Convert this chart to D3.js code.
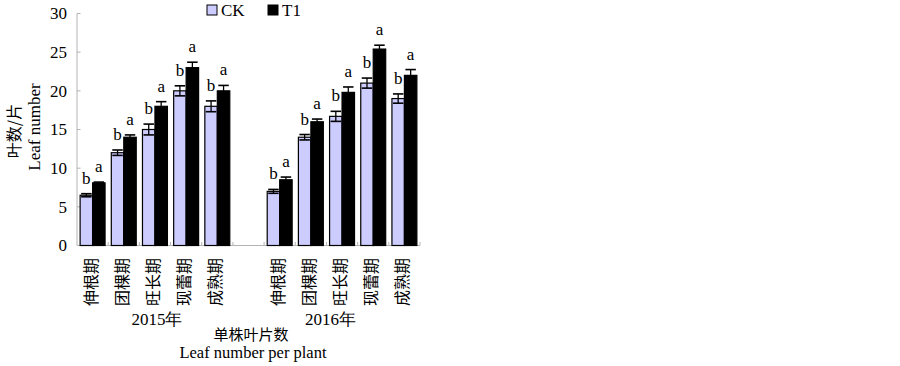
<!DOCTYPE html>
<html><head><meta charset="utf-8">
<script src="https://cdn.jsdelivr.net/npm/d3@7"></script>
<style>body{margin:0;background:#fff}svg{display:block}</style>
</head><body><svg id="c" width="900" height="366"></svg>
<script>
const stages = ["伸根期","团棵期","旺长期","现蕾期","成熟期"];
const years = ["2015年","2016年"];
const seriesNames = ["CK","T1"];
const ck2015 = [6.5, 12.0, 15.0, 20.0, 18.0];
const ck2015Err = [0.2, 0.35, 0.7, 0.65, 0.7];
const t12015 = [8.1, 14.0, 18.0, 23.0, 20.0];
const t12015Err = [0.1, 0.3, 0.6, 0.7, 0.7];
const ck2016 = [7.0, 14.0, 16.7, 21.0, 19.0];
const ck2016Err = [0.25, 0.35, 0.65, 0.65, 0.6];
const t12016 = [8.5, 16.0, 19.8, 25.4, 22.0];
const t12016Err = [0.35, 0.35, 0.7, 0.5, 0.75];
const sigCK = ["b","b","b","b","b","b","b","b","b","b"];
const sigT1 = ["a","a","a","a","a","a","a","a","a","a"];
const yTicks = [0,5,10,15,20,25,30];

const serif = "'Liberation Serif','Times New Roman',serif";
const cjk = "'Noto Sans CJK SC',sans-serif";
const colors = {CK:"#ccccff", T1:"#000000"};
const axisCol = "#b4b4b4";

const svg = d3.select("#c");
const L = 77, R = 420, T = 13.5, B = 245.5;

const rows = [];
years.forEach((yr, yi) => {
  const ck = yi === 0 ? ck2015 : ck2016, cke = yi === 0 ? ck2015Err : ck2016Err;
  const t1 = yi === 0 ? t12015 : t12016, t1e = yi === 0 ? t12015Err : t12016Err;
  stages.forEach((s, i) => {
    rows.push({key: yr + s, year: yr, stage: s,
      vals: [{s:"CK", v: ck[i], e: cke[i], sig: sigCK[yi*5+i]},
             {s:"T1", v: t1[i], e: t1e[i], sig: sigT1[yi*5+i]}]});
  });
  if (yi === 0) rows.push({key: "gap", year: null, stage: "", vals: []});
});

const x = d3.scaleBand().domain(rows.map(r => r.key)).range([L, R]).paddingInner(0).paddingOuter(0);
const xs = d3.scaleBand().domain(seriesNames).range([0, x.bandwidth()]).paddingInner(0).paddingOuter(0.25);
const y = d3.scaleLinear().domain([0, 30]).range([B, T]);

// axes
svg.append("line").attr("x1", L).attr("x2", L).attr("y1", y(30)).attr("y2", y(0)).attr("stroke", axisCol);
svg.append("line").attr("x1", L).attr("x2", R).attr("y1", y(0)).attr("y2", y(0)).attr("stroke", axisCol);
yTicks.forEach(t => {
  svg.append("line").attr("x1", L).attr("x2", L + 3.5).attr("y1", y(t)).attr("y2", y(t)).attr("stroke", axisCol);
  svg.append("text").attr("x", L - 10).attr("y", y(t)).attr("dy", "0.35em").attr("text-anchor", "end")
    .attr("font-family", serif).attr("font-size", 17).text(t);
});
rows.forEach(r => {
  const xe = x(r.key) + x.bandwidth();
  svg.append("line").attr("x1", xe).attr("x2", xe).attr("y1", y(0)).attr("y2", y(0) - 3.5).attr("stroke", axisCol);
});

// bars
const g = svg.append("g");
rows.forEach(r => {
  r.vals.forEach(d => {
    const bx = x(r.key) + xs(d.s), bw = xs.bandwidth();
    g.append("rect").attr("x", bx).attr("y", y(d.v)).attr("width", bw).attr("height", y(0) - y(d.v))
      .attr("fill", colors[d.s]).attr("stroke", "#000").attr("stroke-width", 1.2);
    const cx = bx + bw / 2, cw = bw - 2;
    g.append("line").attr("x1", cx).attr("x2", cx).attr("y1", y(d.v + d.e)).attr("y2", y(d.v - d.e)).attr("stroke", "#000").attr("stroke-width", 1.3);
    [d.v + d.e, d.v - d.e].forEach(v => {
      g.append("line").attr("x1", cx - cw/2).attr("x2", cx + cw/2).attr("y1", y(v)).attr("y2", y(v)).attr("stroke", "#000").attr("stroke-width", 1.6);
    });
    g.append("text").attr("x", cx).attr("y", y(d.v + d.e) - 10).attr("text-anchor", "middle")
      .attr("font-family", serif).attr("font-size", 17).text(d.sig);
  });
});

// category labels (vertical)
rows.filter(r => r.year).forEach(r => {
  const cx = x(r.key) + x.bandwidth() / 2 - 3;
  svg.append("text").attr("transform", `translate(${cx},258) rotate(-90)`)
    .attr("text-anchor", "end").attr("dominant-baseline", "central")
    .attr("font-family", cjk).attr("font-size", 16).text(r.stage);
});

// year labels
const yr1 = rows.filter(r => r.year === years[0]);
const yr2start = x("gap");
const yrPos = [(x(yr1[0].key) + x(yr1[4].key) + x.bandwidth()) / 2 + 2, (yr2start + R) / 2 + 4];
years.forEach((yr, i) => {
  svg.append("text").attr("x", yrPos[i]).attr("y", 325).attr("text-anchor", "middle")
    .attr("font-family", serif).attr("font-size", 17).text(yr);
});

// x title
svg.append("text").attr("x", 251).attr("y", 340).attr("text-anchor", "middle")
  .attr("font-family", cjk).attr("font-size", 15).text("单株叶片数");
svg.append("text").attr("x", 253).attr("y", 358).attr("text-anchor", "middle")
  .attr("font-family", serif).attr("font-size", 16.5).text("Leaf number per plant");

// y titles
svg.append("text").attr("transform", "translate(13,131) rotate(-90)").attr("text-anchor", "middle")
  .attr("dominant-baseline", "central").attr("font-family", cjk).attr("font-size", 16).text("叶数/片");
svg.append("text").attr("transform", "translate(40,127) rotate(-90)").attr("text-anchor", "middle")
  .attr("font-family", serif).attr("font-size", 17).text("Leaf number");

// legend
const legX = [207, 268];
seriesNames.forEach((s, i) => {
  svg.append("rect").attr("x", legX[i]).attr("y", 5).attr("width", 10).attr("height", 10)
    .attr("fill", colors[s]).attr("stroke", "#000").attr("stroke-width", 1);
  svg.append("text").attr("x", legX[i] + 14).attr("y", 16).attr("font-family", serif)
    .attr("font-size", 17).text(s);
});
</script></body></html>
